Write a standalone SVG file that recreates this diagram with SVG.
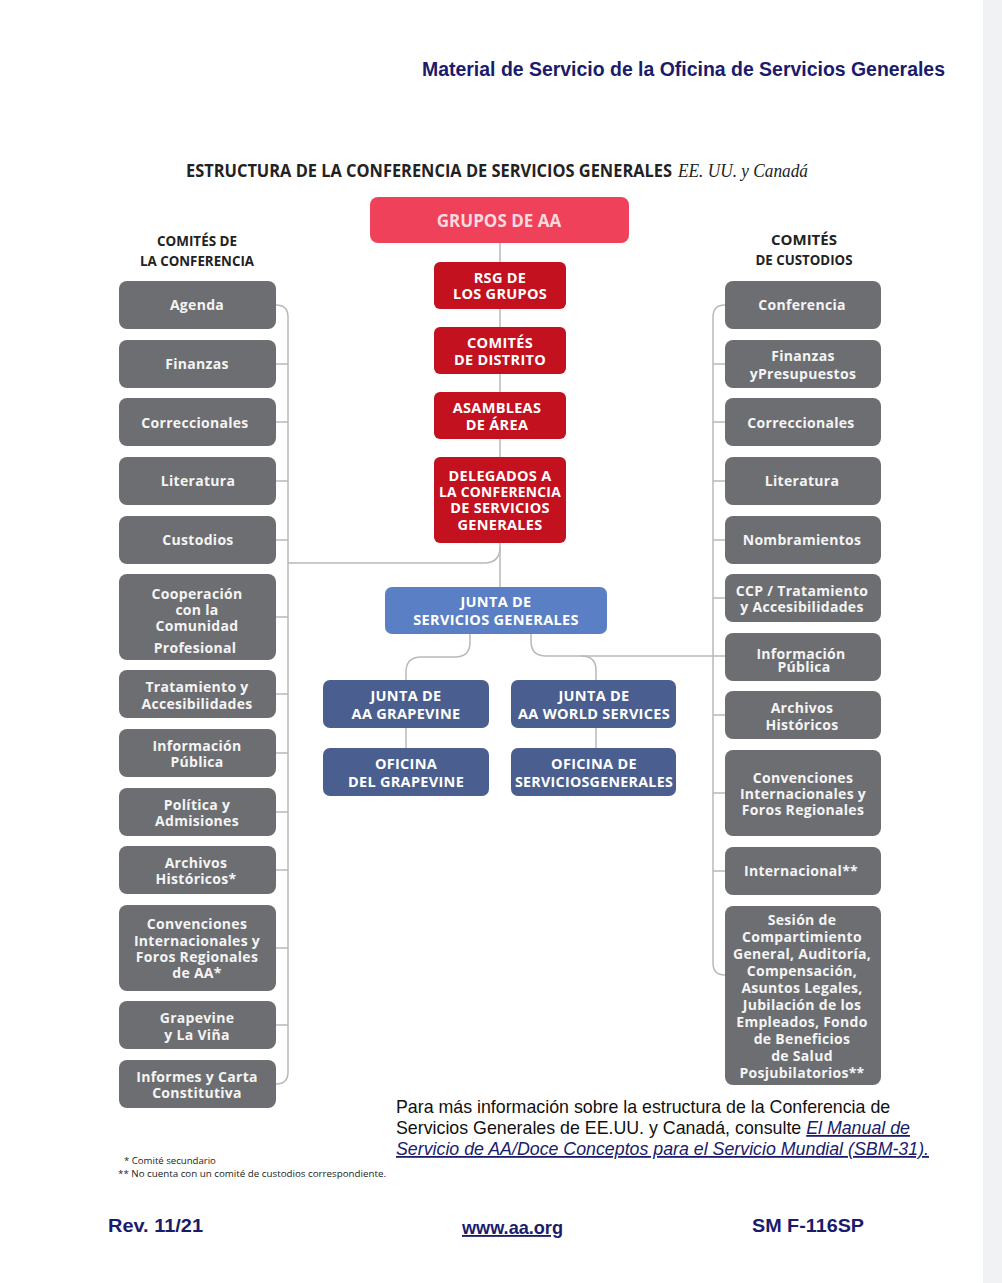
<svg xmlns="http://www.w3.org/2000/svg" width="1002" height="1283" viewBox="0 0 1002 1283">
<style>
.g rect{fill:#6d6e71}
.g text{fill:#f4f4f4;font-family:"Open Sans","DejaVu Sans",sans-serif;font-weight:bold;font-size:14px;text-anchor:middle;letter-spacing:0.3px}
.r rect{fill:#c3111f}
.r text,.b text,.d text{fill:#ffffff;font-family:"Open Sans","DejaVu Sans",sans-serif;font-weight:bold;font-size:14.5px;text-anchor:middle;letter-spacing:0.3px}
.b rect{fill:#5b7fc4}
.d rect{fill:#4a5f8f}
.hd{font-family:"Open Sans","DejaVu Sans",sans-serif;font-weight:bold;font-size:15px;fill:#222;text-anchor:middle}
.conn path{fill:none;stroke:#b9b9b9;stroke-width:1.5}
.navy{fill:#1b1b6b;font-family:"Liberation Sans",Arial,sans-serif;font-weight:bold}
.p{font-family:"Liberation Sans",Arial,sans-serif;font-size:17.8px;fill:#111}
.lnk{font-style:italic;fill:#1b1b6b;text-decoration:underline}
.fn{font-family:"Open Sans","DejaVu Sans",sans-serif;font-size:9.6px;fill:#222}
</style>
<rect x="0" y="0" width="1002" height="1283" fill="#ffffff"/>
<rect x="983" y="0" width="19" height="1283" fill="#f0f2f4"/>

<text class="navy" x="422" y="76" font-size="19.4" textLength="523" lengthAdjust="spacingAndGlyphs">Material de Servicio de la Oficina de Servicios Generales</text>

<text x="186" y="177" font-family="Open Sans,DejaVu Sans,sans-serif" font-weight="bold" font-size="18" fill="#222" textLength="486" lengthAdjust="spacingAndGlyphs">ESTRUCTURA DE LA CONFERENCIA DE SERVICIOS GENERALES</text>
<text x="678" y="177" font-family="Liberation Serif,serif" font-style="italic" font-size="19" fill="#222" textLength="130" lengthAdjust="spacingAndGlyphs">EE. UU. y Canadá</text>

<text class="hd" x="197" y="246" textLength="80" lengthAdjust="spacingAndGlyphs">COMITÉS  DE</text>
<text class="hd" x="197" y="266" textLength="114" lengthAdjust="spacingAndGlyphs">LA CONFERENCIA</text>
<text class="hd" x="804" y="245">COMITÉS</text>
<text class="hd" x="804" y="265" textLength="97" lengthAdjust="spacingAndGlyphs">DE  CUSTODIOS</text>

<g class="conn">
<path d="M500 243 V587"/>
<path d="M276 305 Q288 305 288 317 V1072 Q288 1084 276 1084"/>
<path d="M276 364 H288 M276 422 H288 M276 481 H288 M276 540 H288 M276 617 H288 M276 694 H288 M276 753 H288 M276 812 H288 M276 870 H288 M276 948 H288 M276 1025 H288"/>
<path d="M288 563 H484 Q500 563 500 547"/>
<path d="M725 305 Q713 305 713 317 V963 Q713 975 725 975"/>
<path d="M713 364 H725 M713 422 H725 M713 481 H725 M713 540 H725 M713 598 H725 M713 715 H725 M713 793 H725 M713 871 H725"/>
<path d="M725 656 H546 Q531 656 531 641 V634"/>
<path d="M581 656 Q596 656 596 670 V680"/>
<path d="M470 634 V642 Q470 657 455 657 H421 Q406 657 406 672 V680"/>
<path d="M406 728 V748 M596 728 V748"/>
</g>

<g id="grupos"><rect x="370" y="197" width="259" height="46" rx="8" fill="#ef4159"/><text x="499" y="227" font-family="Open Sans,DejaVu Sans,sans-serif" font-weight="bold" font-size="17" fill="#fbd9de" text-anchor="middle">GRUPOS DE AA</text></g>

<g id="rsg" class="r"><rect x="434" y="262" width="132" height="47" rx="6"/><text x="500" y="283">RSG DE</text><text x="500" y="299">LOS GRUPOS</text></g>
<g id="distrito" class="r"><rect x="434" y="327" width="132" height="47" rx="6"/><text x="500" y="348">COMITÉS</text><text x="500" y="365">DE DISTRITO</text></g>
<g id="area" class="r"><rect x="434" y="392" width="132" height="47" rx="6"/><text x="497" y="413">ASAMBLEAS</text><text x="497" y="430">DE ÁREA</text></g>
<g id="delegados" class="r"><rect x="434" y="457" width="132" height="86" rx="6"/><text x="500" y="481">DELEGADOS A</text><text x="500" y="497" textLength="122" lengthAdjust="spacingAndGlyphs">LA CONFERENCIA</text><text x="500" y="513">DE SERVICIOS</text><text x="500" y="530">GENERALES</text></g>

<g id="junta-sg" class="b"><rect x="385" y="587" width="222" height="47" rx="7"/><text x="496" y="607">JUNTA DE</text><text x="496" y="625">SERVICIOS GENERALES</text></g>
<g id="junta-gv" class="d"><rect x="323" y="680" width="166" height="48" rx="7"/><text x="406" y="701">JUNTA DE</text><text x="406" y="719">AA  GRAPEVINE</text></g>
<g id="junta-aaws" class="d"><rect x="511" y="680" width="165" height="48" rx="7"/><text x="594" y="701">JUNTA DE</text><text x="594" y="719">AA WORLD SERVICES</text></g>
<g id="oficina-gv" class="d"><rect x="323" y="748" width="166" height="48" rx="7"/><text x="406" y="769">OFICINA</text><text x="406" y="787">DEL GRAPEVINE</text></g>
<g id="oficina-sg" class="d"><rect x="511" y="748" width="165" height="48" rx="7"/><text x="594" y="769">OFICINA DE</text><text x="594" y="787" textLength="158" lengthAdjust="spacingAndGlyphs">SERVICIOSGENERALES</text></g>

<g id="l-agenda" class="g"><rect x="119" y="281" width="157" height="48" rx="8"/><text x="197" y="310">Agenda</text></g>
<g id="l-finanzas" class="g"><rect x="119" y="340" width="157" height="48" rx="8"/><text x="197" y="369">Finanzas</text></g>
<g id="l-correccionales" class="g"><rect x="119" y="398" width="157" height="48" rx="8"/><text x="195" y="428">Correccionales</text></g>
<g id="l-literatura" class="g"><rect x="119" y="457" width="157" height="48" rx="8"/><text x="198" y="486">Literatura</text></g>
<g id="l-custodios" class="g"><rect x="119" y="516" width="157" height="48" rx="8"/><text x="198" y="545">Custodios</text></g>
<g id="l-ccp" class="g"><rect x="119" y="574" width="157" height="86" rx="8"/><text x="197" y="599">Cooperación</text><text x="197" y="615">con la</text><text x="197" y="631">Comunidad</text><text x="195" y="653">Profesional</text></g>
<g id="l-tratamiento" class="g"><rect x="119" y="670" width="157" height="48" rx="8"/><text x="197" y="692">Tratamiento  y</text><text x="197" y="709">Accesibilidades</text></g>
<g id="l-ip" class="g"><rect x="119" y="729" width="157" height="48" rx="8"/><text x="197" y="751">Información</text><text x="197" y="767">Pública</text></g>
<g id="l-politica" class="g"><rect x="119" y="788" width="157" height="48" rx="8"/><text x="197" y="810">Política y</text><text x="197" y="826">Admisiones</text></g>
<g id="l-archivos" class="g"><rect x="119" y="846" width="157" height="48" rx="8"/><text x="196" y="868">Archivos</text><text x="196" y="884">Históricos*</text></g>
<g id="l-convenciones" class="g"><rect x="119" y="905" width="157" height="86" rx="8"/><text x="197" y="929">Convenciones</text><text x="197" y="946">Internacionales  y</text><text x="197" y="962">Foros  Regionales</text><text x="197" y="978">de AA*</text></g>
<g id="l-grapevine" class="g"><rect x="119" y="1001" width="157" height="48" rx="8"/><text x="197" y="1023">Grapevine</text><text x="197" y="1040">y La Viña</text></g>
<g id="l-informes" class="g"><rect x="119" y="1060" width="157" height="48" rx="8"/><text x="197" y="1082">Informes y Carta</text><text x="197" y="1098">Constitutiva</text></g>

<g id="r-conferencia" class="g"><rect x="725" y="281" width="156" height="48" rx="8"/><text x="802" y="310">Conferencia</text></g>
<g id="r-finanzas" class="g"><rect x="725" y="340" width="156" height="48" rx="8"/><text x="803" y="361">Finanzas</text><text x="803" y="379">yPresupuestos</text></g>
<g id="r-correccionales" class="g"><rect x="725" y="398" width="156" height="48" rx="8"/><text x="801" y="428">Correccionales</text></g>
<g id="r-literatura" class="g"><rect x="725" y="457" width="156" height="48" rx="8"/><text x="802" y="486">Literatura</text></g>
<g id="r-nombramientos" class="g"><rect x="725" y="516" width="156" height="48" rx="8"/><text x="802" y="545">Nombramientos</text></g>
<g id="r-ccp" class="g"><rect x="725" y="574" width="156" height="48" rx="8"/><text x="802" y="596">CCP / Tratamiento</text><text x="802" y="612">y  Accesibilidades</text></g>
<g id="r-ip" class="g"><rect x="725" y="633" width="156" height="48" rx="8"/><text x="801" y="659">Información</text><text x="804" y="672">Pública</text></g>
<g id="r-archivos" class="g"><rect x="725" y="691" width="156" height="48" rx="8"/><text x="802" y="713">Archivos</text><text x="802" y="730">Históricos</text></g>
<g id="r-convenciones" class="g"><rect x="725" y="750" width="156" height="86" rx="8"/><text x="803" y="783">Convenciones</text><text x="803" y="799">Internacionales  y</text><text x="803" y="815">Foros Regionales</text></g>
<g id="r-internacional" class="g"><rect x="725" y="847" width="156" height="48" rx="8"/><text x="801" y="876">Internacional**</text></g>
<g id="r-sesion" class="g"><rect x="725" y="906" width="156" height="179" rx="8"/><text x="802" y="925">Sesión de</text><text x="802" y="942">Compartimiento</text><text x="802" y="959">General,  Auditoría,</text><text x="802" y="976">Compensación,</text><text x="802" y="993">Asuntos Legales,</text><text x="802" y="1010">Jubilación de los</text><text x="802" y="1027">Empleados, Fondo</text><text x="802" y="1044">de  Beneficios</text><text x="802" y="1061">de Salud</text><text x="802" y="1078">Posjubilatorios**</text></g>

<text class="p" x="396" y="1113">Para más información sobre la estructura de la Conferencia de</text>
<text class="p" x="396" y="1134">Servicios Generales de EE.UU. y Canadá, consulte <tspan class="lnk">El Manual de</tspan></text>
<text class="p" x="396" y="1155"><tspan class="lnk">Servicio de AA/Doce Conceptos para el Servicio Mundial (SBM-31).</tspan></text>

<text class="fn" x="124" y="1164">* Comité secundario</text>
<text class="fn" x="118" y="1177" textLength="268" lengthAdjust="spacingAndGlyphs">** No cuenta con un comité de custodios correspondiente.</text>

<text class="navy" x="108" y="1232" font-size="19" textLength="95" lengthAdjust="spacingAndGlyphs">Rev. 11/21</text>
<text class="navy" x="462" y="1234" font-size="18.5" textLength="101" lengthAdjust="spacingAndGlyphs" text-decoration="underline">www.aa.org</text>
<text class="navy" x="752" y="1232" font-size="19" textLength="112" lengthAdjust="spacingAndGlyphs">SM F-116SP</text>
</svg>
